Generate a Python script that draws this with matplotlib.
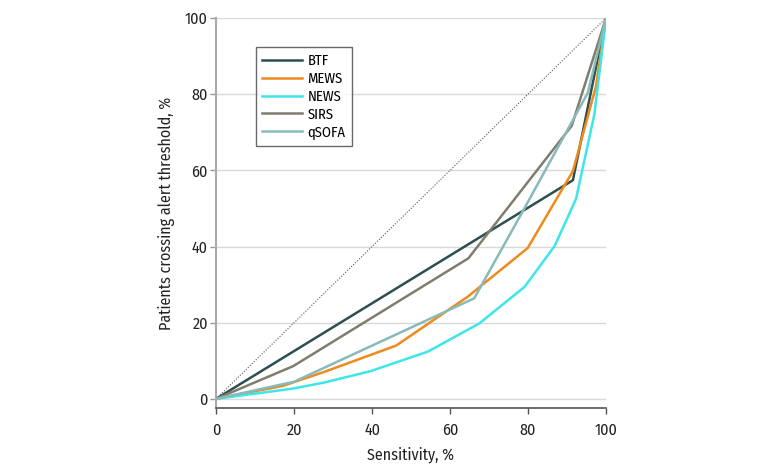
import matplotlib.pyplot as plt
from matplotlib import font_manager

# curve points (sensitivity %, patients crossing threshold %)
btf_x = [0, 91.5, 100]
btf_y = [0, 57.4, 100]
mews_x = [0, 17.1, 27.8, 46.2, 64.5, 79.9, 91.5, 97.4, 100]
mews_y = [0, 3.4, 7.1, 14.0, 26.8, 39.6, 59.8, 82.0, 100]
news_x = [0, 19.7, 27.8, 39.7, 54.3, 67.5, 79.1, 86.8, 92.3, 97.0, 100]
news_y = [0, 2.7, 4.3, 7.3, 12.4, 19.8, 29.4, 40.1, 52.5, 74.7, 100]
sirs_x = [0, 19.8, 64.7, 91.2, 100]
sirs_y = [0, 8.6, 36.9, 71.7, 100]
qsofa_x = [0, 20.0, 66.2, 79.0, 95.3, 100]
qsofa_y = [0, 4.5, 26.4, 49.9, 80.3, 100]

ticks = [0, 20, 40, 60, 80, 100]

# pick a condensed humanist sans if one is around
have = {f.name for f in font_manager.fontManager.ttflist}
wanted = ['Fira Sans Condensed', 'Open Sans Condensed', 'PT Sans Narrow',
          'Roboto Condensed', 'Liberation Sans Narrow', 'Lato']
fam = next((w for w in wanted if w in have), 'DejaVu Sans')
plt.rcParams['font.family'] = [fam, 'DejaVu Sans']

fig = plt.figure(figsize=(7.8, 4.72), dpi=100)
ax = fig.add_axes([0.277, 0.1356, 0.5, 0.8263])

for t in ticks:
    ax.axhline(t, color='#d9d9d9', lw=1.0, zorder=0)

ax.plot([0, 100], [0, 100], color='#555555', lw=0.8, ls=(0, (1, 1.5)), zorder=1)
ax.plot(btf_x, btf_y, color='#2e4f4f', lw=1.8, label='BTF', zorder=3)
ax.plot(mews_x, mews_y, color='#ef8a1d', lw=1.8, label='MEWS', zorder=3)
ax.plot(news_x, news_y, color='#3de6e8', lw=1.8, label='NEWS', zorder=3)
ax.plot(sirs_x, sirs_y, color='#807d6e', lw=1.8, label='SIRS', zorder=3)
ax.plot(qsofa_x, qsofa_y, color='#88baba', lw=1.8, label='qSOFA', zorder=3)

ax.set_xlim(0, 100)
ax.set_ylim(-2.4, 100)
ax.set_xticks(ticks)
ax.set_yticks(ticks)
ax.tick_params(labelsize=11.5, colors='#222222', length=4, width=1)
ax.tick_params(axis='y', color='#999999', pad=2)
ax.tick_params(axis='x', color='#555555', pad=6)

ax.spines['top'].set_visible(False)
ax.spines['right'].set_visible(False)
ax.spines['left'].set_color('#aaaaaa')
ax.spines['left'].set_linewidth(1.5)
ax.spines['bottom'].set_color('#555555')
ax.spines['bottom'].set_linewidth(1.2)

ax.set_xlabel('Sensitivity, %', fontsize=11.5, color='#222222', labelpad=6)
ax.set_ylabel('Patients crossing alert threshold, %', fontsize=11.5, color='#222222', labelpad=7)

leg = ax.legend(loc='upper left', bbox_to_anchor=(0.102, 0.925), fontsize=10.5,
                frameon=True, fancybox=False, handlelength=2.7, handletextpad=0.4,
                borderpad=0.45, labelspacing=0.25, borderaxespad=0)
leg.get_frame().set_edgecolor('#444444')
leg.get_frame().set_linewidth(1.0)

plt.savefig('out.png', dpi=100)
plt.close()
